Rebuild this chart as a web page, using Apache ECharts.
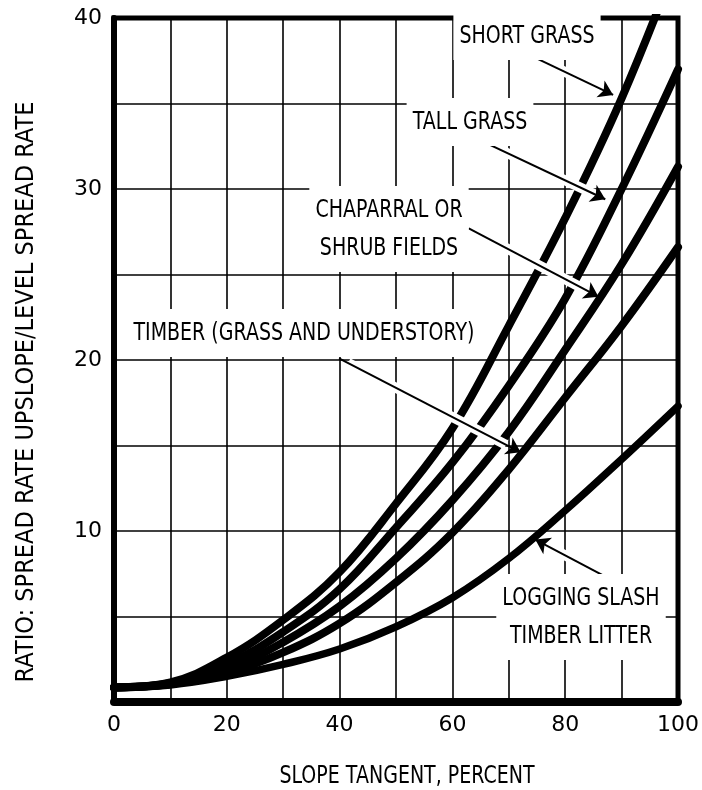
<!DOCTYPE html>
<html>
<head>
<meta charset="utf-8">
<script src="https://cdn.jsdelivr.net/npm/echarts@6/dist/echarts.min.js"></script>
<style>
    html, body { margin: 0; padding: 0; background: #fff; }
    #slopeChart { width: 702px; height: 790px; }
</style>
</head>
<body>
<div id="slopeChart"></div>
<script>
// values, ratio at each slope tangent (percent)
var slopeTangent = [0, 10, 20, 30, 40, 50, 60, 70, 80, 90, 100];
var shortGrass   = [0.85, 1.15, 2.6, 4.8, 7.6, 11.6, 16.0, 22.0, 28.3, 35.3, 43.5];
var tallGrass    = [0.85, 1.1, 2.2, 4.1, 6.6, 10.2, 14.0, 18.5, 23.6, 30.0, 37.0];
var chaparral    = [0.85, 1.05, 1.9, 3.5, 5.6, 8.4, 11.8, 15.8, 20.6, 25.6, 31.3];
var timberGrass  = [0.85, 1.05, 1.7, 2.9, 4.6, 7.0, 9.9, 13.6, 17.8, 22.0, 26.6];
var loggingSlash = [0.85, 1.0, 1.5, 2.2, 3.1, 4.4, 6.1, 8.4, 11.2, 14.2, 17.3];
var xTicks = [0, 20, 40, 60, 80, 100];
var yTicks = [10, 20, 30, 40];

var FONT = '"DejaVu Sans", sans-serif';

function pairs(ys) {
    var out = [];
    for (var i = 0, l = ys.length; i < l; i++) {
        out[i] = [slopeTangent[i], ys[i]];
    }
    return out;
}

// leader arrows, [fromX, fromY, toX, toY] in data units
var arrows = [
    [73.9, 37.8, 88.5, 35.5],
    [65.9, 32.7, 87.1, 29.4],
    [62.9, 27.7, 85.9, 23.7],
    [39.9, 20.1, 72.1, 14.6],
    [87.3, 7.3, 74.7, 9.5]
];

var arrowLines = [];
var haloLines = [];
for (var i = 0; i < arrows.length; i++) {
    var a = arrows[i];
    arrowLines.push([{coord: [a[0], a[1]]}, {coord: [a[2], a[3]]}]);
    // white gap under the arrow, stops short of the tip
    haloLines.push([
        {coord: [a[0] + (a[2] - a[0]) * 0.05, a[1] + (a[3] - a[1]) * 0.05]},
        {coord: [a[0] + (a[2] - a[0]) * 0.92, a[1] + (a[3] - a[1]) * 0.92]}
    ]);
}

function curve(name, ys, width) {
    return {
        name: name,
        type: 'line',
        data: pairs(ys),
        smooth: 0.4,
        symbol: 'none',
        z: 2,
        lineStyle: {color: '#000', width: width, cap: 'round'},
        silent: true
    };
}

// narrow-looking text: larger size squeezed horizontally
function label(text, x, y) {
    return {
        type: 'text',
        x: x,
        y: y,
        scaleX: 0.76,
        z: 100,
        style: {
            text: text,
            font: '25px ' + FONT,
            fill: '#000',
            align: 'center',
            verticalAlign: 'middle',
            lineHeight: 38,
            backgroundColor: '#fff',
            padding: [5, 8, 5, 8]
        }
    };
}

var myChart = echarts.init(document.getElementById('slopeChart'));

var option = {
    backgroundColor: '#fff',
    animation: false,
    grid: {
        left: 114,
        right: 22,
        top: 18,
        bottom: 88,
        show: true,
        borderColor: '#000',
        borderWidth: 5
    },
    xAxis: {
        type: 'value',
        min: 0,
        max: 100,
        interval: 10,
        axisLine: {show: true, lineStyle: {color: '#000', width: 8}},
        axisTick: {show: false},
        splitLine: {show: true, lineStyle: {color: '#000', width: 1.6}},
        axisLabel: {
            margin: 12,
            color: '#000',
            fontSize: 22,
            fontFamily: FONT,
            formatter: function (v) {
                return xTicks.indexOf(v) >= 0 ? String(v) : '';
            }
        }
    },
    yAxis: {
        type: 'value',
        min: 0,
        max: 40,
        interval: 5,
        axisLine: {show: true, lineStyle: {color: '#000', width: 6}},
        axisTick: {show: false},
        splitLine: {show: true, lineStyle: {color: '#000', width: 1.6}},
        axisLabel: {
            margin: 12,
            color: '#000',
            fontSize: 22,
            fontFamily: FONT,
            formatter: function (v) {
                return yTicks.indexOf(v) >= 0 ? String(v) : '';
            }
        }
    },
    series: [
        curve('Short grass', shortGrass, 8),
        curve('Tall grass', tallGrass, 8),
        curve('Chaparral or shrub fields', chaparral, 8),
        curve('Timber (grass and understory)', timberGrass, 8),
        curve('Logging slash, timber litter', loggingSlash, 7.5),
        {
            name: 'halo',
            type: 'line',
            data: [],
            silent: true,
            markLine: {
                z: 5,
                silent: true,
                animation: false,
                symbol: ['none', 'none'],
                label: {show: false},
                lineStyle: {color: '#fff', width: 10, type: 'solid'},
                data: haloLines
            }
        },
        {
            name: 'arrows',
            type: 'line',
            data: [],
            silent: true,
            markLine: {
                z: 6,
                silent: true,
                animation: false,
                symbol: ['none', 'arrow'],
                symbolSize: 14,
                label: {show: false},
                lineStyle: {color: '#000', width: 2, type: 'solid'},
                data: arrowLines
            }
        }
    ],
    graphic: [
        label('SHORT GRASS', 527, 36),
        label('TALL GRASS', 470, 122),
        label('CHAPARRAL OR\nSHRUB FIELDS', 389, 229),
        label('TIMBER (GRASS AND UNDERSTORY)', 304, 333),
        label('LOGGING SLASH\nTIMBER LITTER', 581, 617),
        {
            type: 'text',
            x: 407,
            y: 776,
            scaleX: 0.76,
            z: 100,
            style: {
                text: 'SLOPE TANGENT, PERCENT',
                font: '25px ' + FONT,
                fill: '#000',
                align: 'center',
                verticalAlign: 'middle'
            }
        },
        {
            type: 'text',
            x: 26,
            y: 392,
            rotation: Math.PI / 2,
            scaleX: 0.9,
            z: 100,
            style: {
                text: 'RATIO: SPREAD RATE UPSLOPE/LEVEL SPREAD RATE',
                font: '25px ' + FONT,
                fill: '#000',
                align: 'center',
                verticalAlign: 'middle'
            }
        }
    ]
};

myChart.setOption(option);
</script>
</body>
</html>
